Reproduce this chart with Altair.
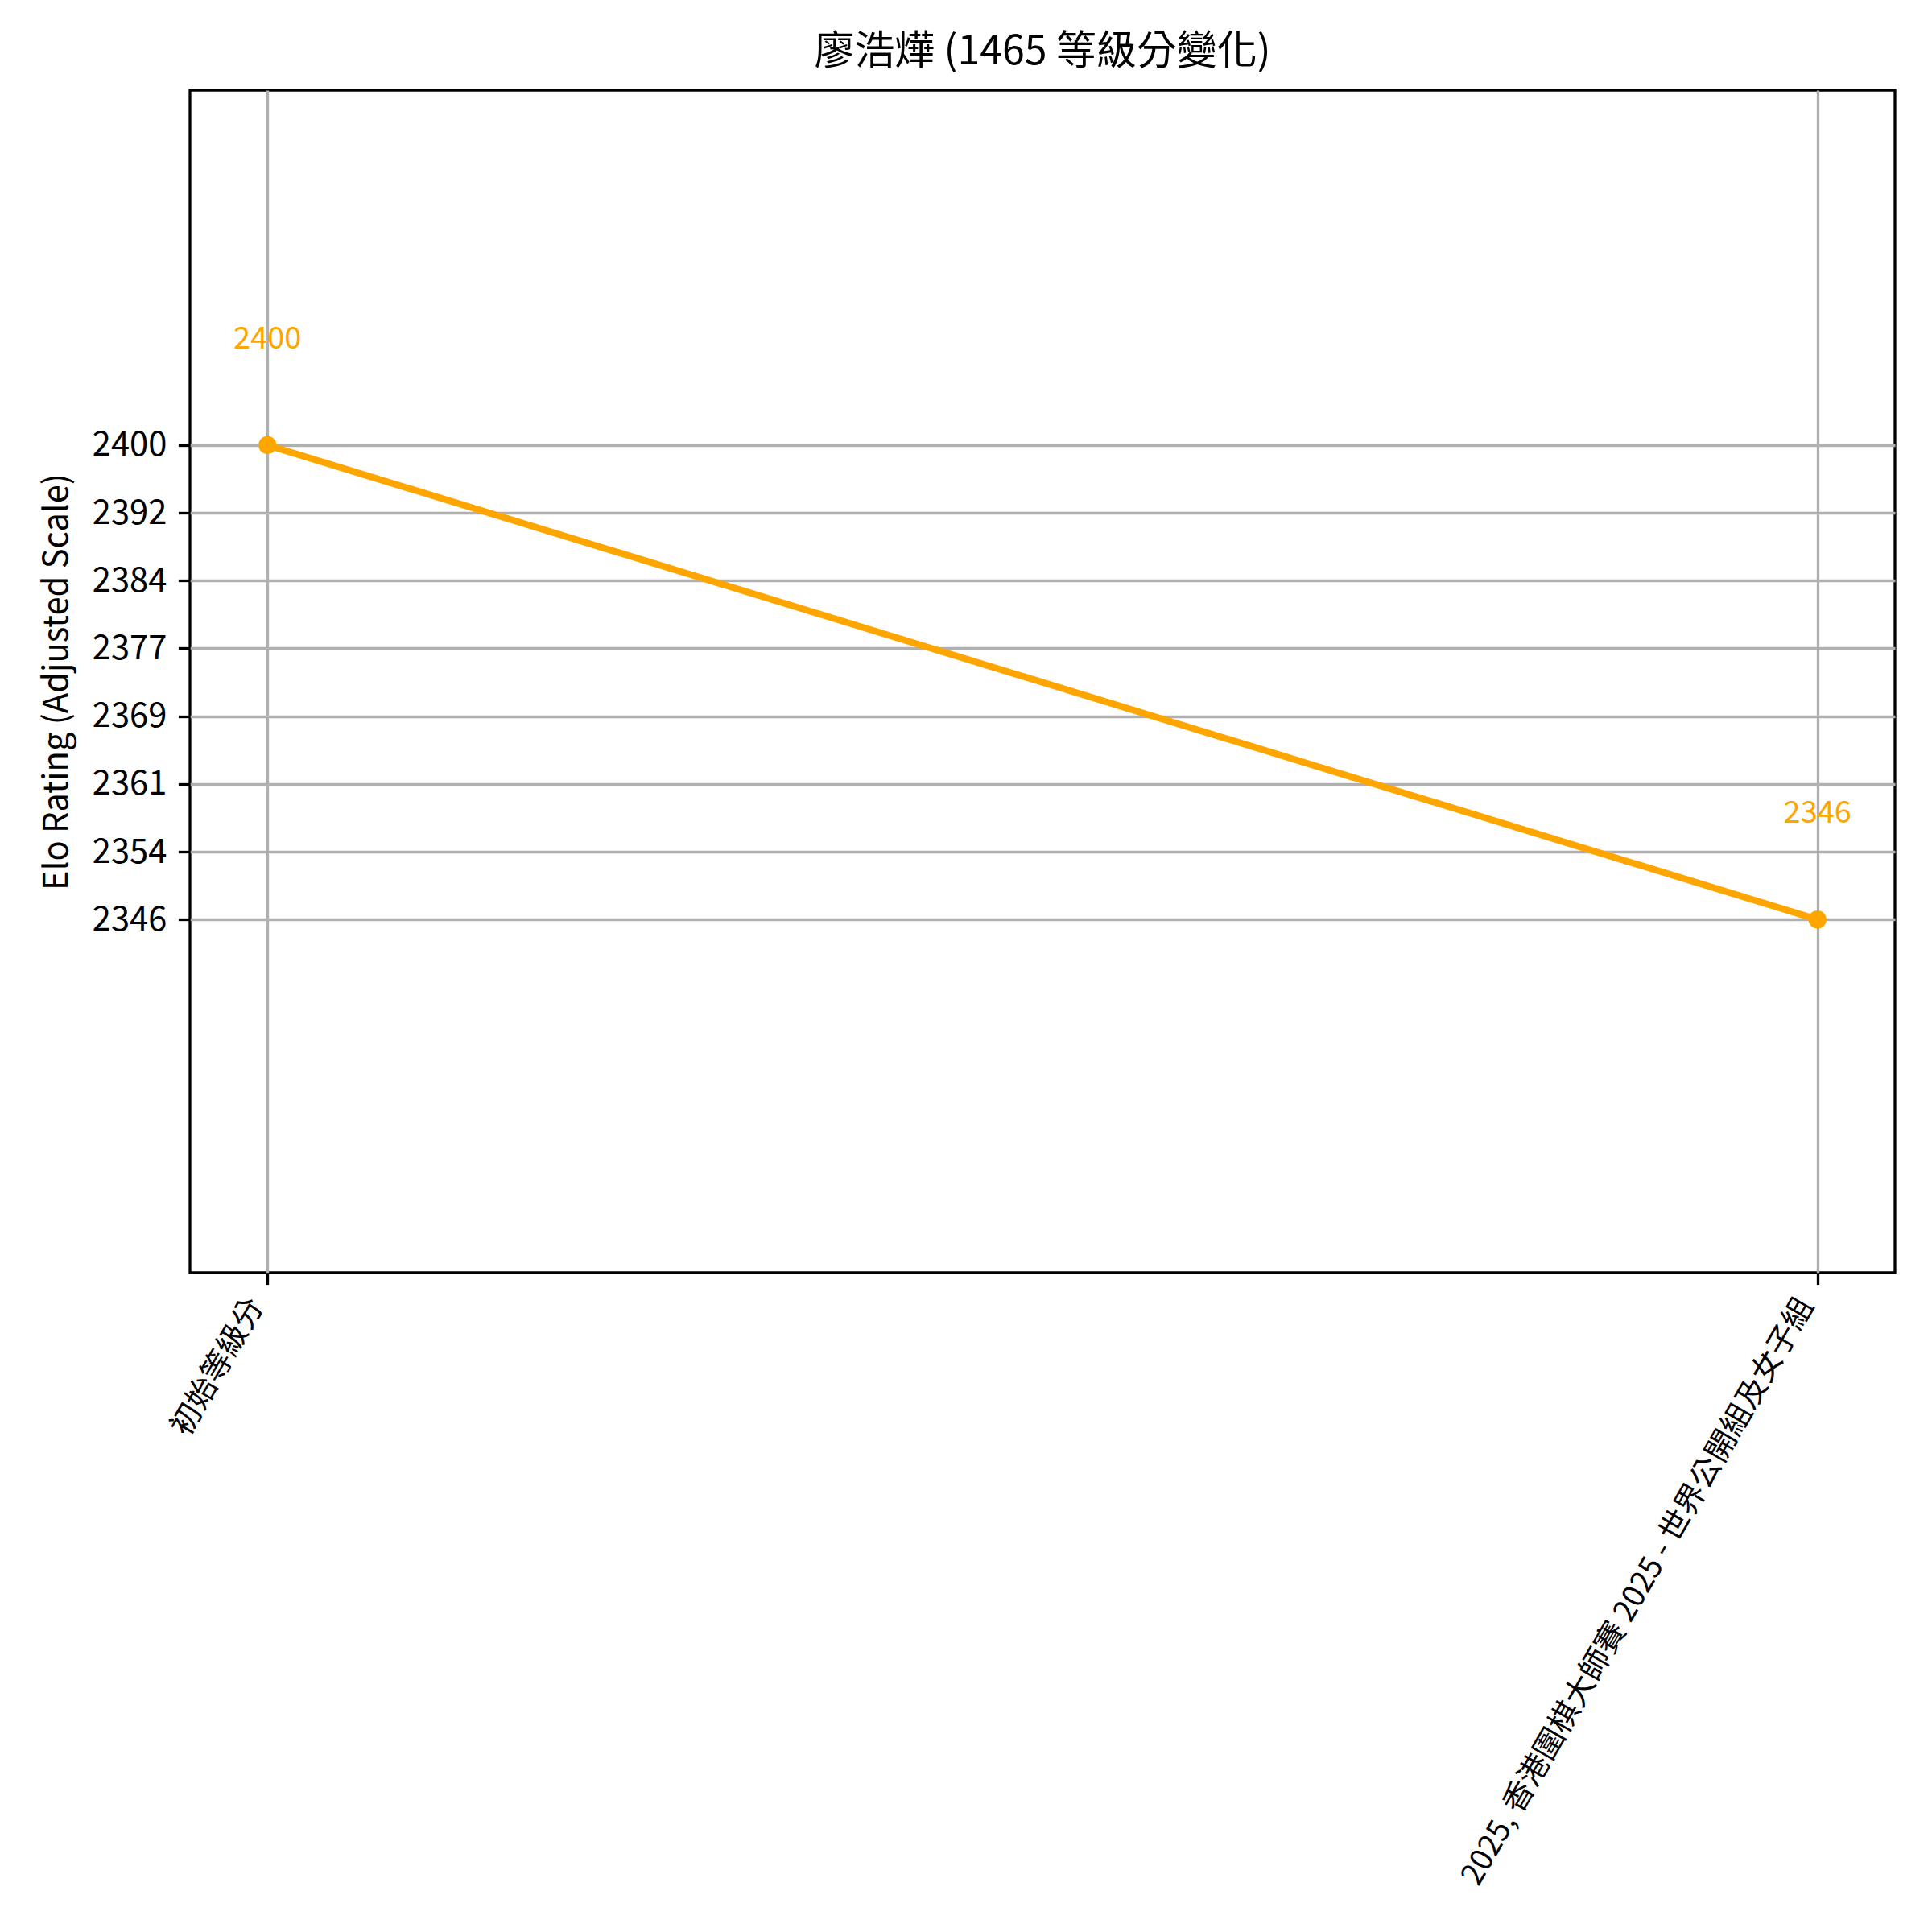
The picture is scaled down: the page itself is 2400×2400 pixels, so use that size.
import altair as alt
import pandas as pd

# ---- data ----
categories = ["初始等級分", "2025, 香港圍棋大師賽 2025 - 世界公開組及女子組"]
ratings = [2400, 2346]
ytick_values = [2346, 2353.714, 2361.429, 2369.143, 2376.857, 2384.571, 2392.286, 2400]
ytick_labels = ["2346", "2354", "2361", "2369", "2377", "2384", "2392", "2400"]
y_domain = [2305.8, 2440.4]
title_text = "廖浩燁 (1465 等級分變化)"
y_title = "Elo Rating (Adjusted Scale)"

df = pd.DataFrame({"event": categories, "rating": ratings,
                   "label": [str(r) for r in ratings]})

FONT = "Noto Sans CJK TC"
ORANGE = "#FFA500"

label_expr = ""
for v, lab in zip(ytick_values, ytick_labels):
    label_expr += f"abs(datum.value - {v}) < 0.5 ? '{lab}' : "
label_expr += "''"

x_enc = alt.X("event:N", sort=categories,
              scale=alt.Scale(type="point", padding=0.05),
              axis=alt.Axis(title=None, labelAngle=-60, labelAlign="right",
                            labelBaseline="middle", labelFontSize=38,
                            labelPadding=20, labelOffset=-14,
                            labelLimit=2000,
                            grid=True, gridColor="#b0b0b0", gridWidth=3.3,
                            tickSize=14.6, tickWidth=3.3, tickColor="black",
                            domain=False, labelColor="black", labelFont=FONT))
y_enc = alt.Y("rating:Q",
              scale=alt.Scale(domain=y_domain, nice=False, zero=False),
              axis=alt.Axis(title=y_title, values=ytick_values, labelExpr=label_expr,
                            labelFontSize=41.7, labelPadding=14.6, labelColor="black",
                            labelFont=FONT, titleFont=FONT, titleFontSize=41.7,
                            titleFontWeight="normal", titleColor="black", titlePadding=22,
                            grid=True, gridColor="#b0b0b0", gridWidth=3.3,
                            tickSize=14.6, tickWidth=3.3, tickColor="black",
                            domain=False))

base = alt.Chart(df)
line = base.mark_line(color=ORANGE, strokeWidth=8.3).encode(x=x_enc, y=y_enc)
pts = base.mark_circle(color=ORANGE, size=500, opacity=1).encode(x=x_enc, y=y_enc)
txt = base.mark_text(color=ORANGE, fontSize=38, font=FONT, dy=-120,
                     baseline="alphabetic", align="center").encode(
    x=x_enc, y=y_enc, text="label:N")

chart = alt.layer(line, pts, txt).properties(
    width=2118, height=1469,
    title=alt.TitleParams(title_text, font=FONT, fontSize=50, fontWeight="normal",
                          color="black", anchor="middle", offset=22),
    autosize=alt.AutoSizeParams(type="none"),
    padding={"left": 228, "top": 104, "right": 30, "bottom": 812},
).configure(background="white",
            view=alt.ViewConfig(stroke="black", strokeWidth=3.3))

chart.save("out.html", embed_options={"renderer": "svg", "actions": False})
